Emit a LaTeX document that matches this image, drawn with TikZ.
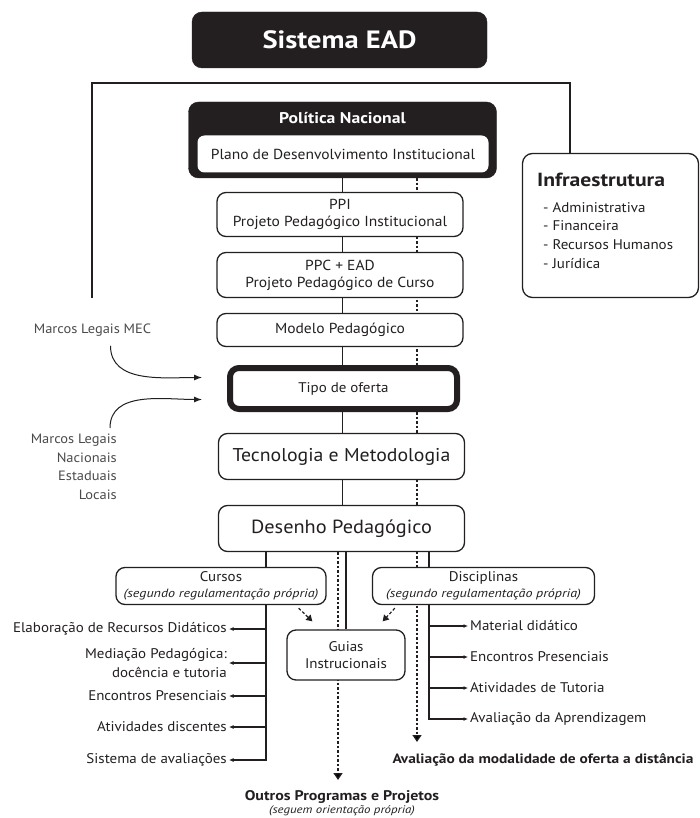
\documentclass[tikz,border=0pt]{standalone}
\usepackage{fontspec}
\setmainfont{PT Sans}[FakeStretch=1.07,BoldFeatures={FakeStretch=1.14},
	ItalicFeatures={FakeStretch=1.17}]
\usetikzlibrary{arrows.meta,backgrounds}
\definecolor{ink}{HTML}{231F20}
\definecolor{softink}{HTML}{4A4A4A}
\newcommand{\fs}[2]{\fontsize{#1}{#2}\selectfont}

\begin{document}
\begin{tikzpicture}[
		x=1pt, y=-1pt, color=ink,
		stage/.style={rectangle,rounded corners=9pt,draw=ink,fill=white,line width=1.3pt,
		minimum width=246pt,align=center,inner sep=0pt,font=\fs{14.5}{17}},
		darkstage/.style={rectangle,rounded corners=10pt,fill=ink,draw=ink,text=white},
		link/.style={draw=ink,line width=1.3pt},
		dotlink/.style={draw=ink,line width=1.3pt,dash pattern=on 2.5pt off 2pt,
		-{Triangle[width=9pt,length=7pt]}},
		hint/.style={draw=ink,line width=1.2pt,dash pattern=on 3pt off 2pt,
		-{Triangle[width=7pt,length=6pt]}},
		branch/.style={draw=ink,line width=1.3pt,-{Latex[length=4.5pt,width=4pt]}},
		curve/.style={draw=ink,line width=1pt,-{Latex[length=8pt,width=6pt]}},
		item/.style={inner sep=2pt,font=\fs{14}{19}},
		legal/.style={text=softink,font=\fs{13.5}{18.5}}
		]
		\useasboundingbox (0,0) rectangle (700,818);

		\node[darkstage,minimum width=295pt,minimum height=56pt,font=\fs{25}{30}\bfseries] (sistema) at (339.5,40) {Sistema EAD};

		\node[darkstage,minimum width=308pt,minimum height=76pt] (pol) at (342.5,140) {};
		\node[text=white,font=\fs{15.5}{17}\bfseries] (poltitle) at (342.5,118) {Política Nacional};
		\node[stage,draw=none,minimum width=291pt,minimum height=37pt,rounded corners=7pt] (pdi) at (343,154) {Plano de Desenvolvimento Institucional};

		\node[stage,minimum height=44pt] (ppi) at (340,214.5) {PPI\\Projeto Pedagógico Institucional};
		\node[stage,minimum height=45pt] (ppc) at (340,275) {PPC + EAD\\Projeto Pedagógico de Curso};
		\node[stage,minimum height=33pt] (modelo) at (340,330) {Modelo Pedagógico};
		\node[stage,minimum width=227pt,minimum height=41pt,line width=6pt,font=\fs{14}{17}] (tipo) at (343.5,388.5) {Tipo de oferta};
		\node[stage,minimum height=46pt,font=\fs{18.5}{22}] (tec) at (341.5,456.5) {Tecnologia e Metodologia};
		\node[stage,minimum height=46pt,font=\fs{19}{22}] (desenho) at (341.5,528.5) {Desenho Pedagógico};

		\node[stage,minimum width=176pt,minimum height=144pt,rounded corners=10pt] (infra) at (610.5,225.5) {};
		\node[anchor=west,inner sep=0pt,font=\fs{19}{20}\bfseries] (infratitle) at (537,180) {Infraestrutura};
		\node[anchor=north west,align=left,inner sep=0pt,font=\fs{14}{18.7}] (infralist) at (543,202)
			{- Administrativa\\- Financeira\\- Recursos Humanos\\- Jurídica};

		\node[legal] (mec) at (92.5,330) {Marcos Legais MEC};
		\node[legal,anchor=north east,align=right,inner sep=0pt] (legais) at (117,434)
			{Marcos Legais\\Nacionais\\Estaduais\\Locais};

		\node[stage,minimum width=210pt,minimum height=37pt,font=\fs{14}{16}] (cursos) at (221,586)
			{Cursos\\{\itshape\fs{12}{14}(segundo regulamentação própria)}};
		\node[stage,minimum width=222pt,minimum height=37pt,font=\fs{14}{16}] (discip) at (483.5,586)
			{Disciplinas\\{\itshape\fs{12}{14}(segundo regulamentação própria)}};
		\node[stage,minimum width=118pt,minimum height=50pt,font=\fs{14}{16.5}] (guias) at (346,655) {Guias\\Instrucionais};

		\node[item,anchor=east] (elab) at (229,629) {Elaboração de Recursos Didáticos};
		\node[item,anchor=east,align=right,font=\fs{14}{19}] (medi) at (229,663) {Mediação Pedagógica:\\docência e tutoria};
		\node[item,anchor=east] (encl) at (229,696) {Encontros Presenciais};
		\node[item,anchor=east] (ativ) at (229,727) {Atividades discentes};
		\node[item,anchor=east] (sist) at (229,760) {Sistema de avaliações};

		\node[item,anchor=west] (mat) at (468,626) {Material didático};
		\node[item,anchor=west] (encr) at (468,657) {Encontros Presenciais};
		\node[item,anchor=west] (tut) at (468,688) {Atividades de Tutoria};
		\node[item,anchor=west] (aprend) at (468,719) {Avaliação da Aprendizagem};

		\node[font=\fs{13.5}{16}\bfseries] (aval) at (543,760) {Avaliação da modalidade de oferta a distância};
		\node[font=\fs{14}{16}\bfseries] (outros) at (342,797) {Outros Programas e Projetos};
		\node[font=\fs{11}{13}\itshape] (outrosnote) at (342,811) {(seguem orientação própria)};

		\coordinate (frameend) at (92,298);
		\coordinate (frametop) at (570,83);
		\coordinate (avaltip) at (417,742);
		\coordinate (outrostip) at (338,780);
		\coordinate (cspine) at (266,0);
		\coordinate (dspine) at (429,0);

		\begin{scope}[on background layer]
			\draw[link] (frameend) |- (frametop) -- (frametop |- infra.north);
			\draw[link] (pol.south) -- (pol.south |- desenho.north);
			\draw[dotlink] (pol.south -| avaltip) -- (avaltip);
			\draw[dotlink] (desenho.south -| outrostip) -- (outrostip);
			\draw[link] (desenho.south -| guias.north) -- (guias.north);
			\draw[branch] (desenho.south -| cspine) |- (sist.east);
			\draw[branch] (desenho.south -| dspine) |- (aprend.west);
		\end{scope}

		\draw[branch] (elab.east -| cspine) -- (elab.east);
		\draw[branch] (medi.east -| cspine) -- (medi.east);
		\draw[branch] (encl.east -| cspine) -- (encl.east);
		\draw[branch] (ativ.east -| cspine) -- (ativ.east);
		\draw[branch] (mat.west -| dspine) -- (mat.west);
		\draw[branch] (encr.west -| dspine) -- (encr.west);
		\draw[branch] (tut.west -| dspine) -- (tut.west);

		\draw[hint] ([shift={(-28,3)}]cursos.south east) -- ([shift={(26,-8)}]guias.north west);
		\draw[hint] ([shift={(23,3)}]discip.south west) -- ([shift={(-23,-8)}]guias.north east);

		\draw[curve] ([xshift=18pt,yshift=-6pt]mec.south) to[out=-90,in=180] ([shift={(-25,-11)}]tipo.west);
		\draw[curve] ([shift={(-7,-6)}]legais.north east) to[out=90,in=180] ([shift={(-25,11)}]tipo.west);
	\end{tikzpicture}
\end{document}
